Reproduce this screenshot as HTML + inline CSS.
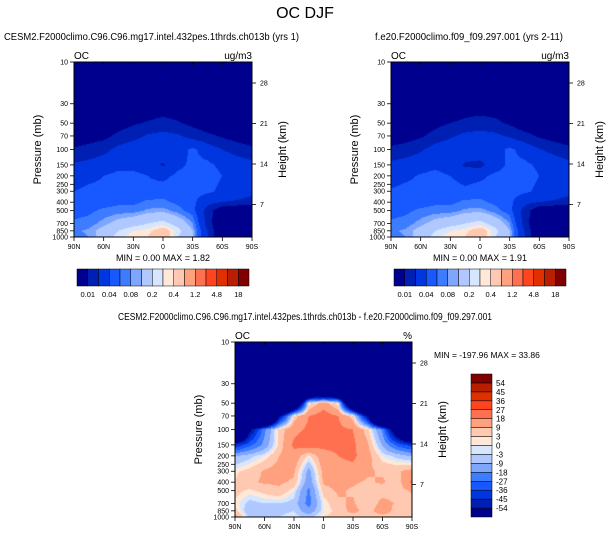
<!DOCTYPE html>
<html><head><meta charset="utf-8">
<style>
body{margin:0;background:#fff;width:609px;height:538px;overflow:hidden;position:relative;font-family:"Liberation Sans",sans-serif;}
canvas{position:absolute;}
svg{position:absolute;left:0;top:0;}
</style></head>
<body>
<canvas id="c1"></canvas>
<canvas id="c2"></canvas>
<canvas id="c3"></canvas>
<svg id="s" width="609" height="538"></svg>
<script>
const lats = ["90N","75N","60N","45N","30N","15N","0","15S","30S","45S","60S","75S","90S"];
const levels = [10,30,50,70,100,150,200,300,400,500,700,850,1000];
const pTicks = [10,30,50,70,100,150,200,250,300,400,500,700,850,1000];
const hTicks = [28,21,14,7];
const xTickLabels = ["90N","60N","30N","0","30S","60S","90S"];
const palette = ["#00008e","#0020b4","#0036e0","#1858ff","#3e7cff","#7ea6ff","#afc8ff","#d6e6ff","#ffe8d8","#ffc8b0","#ffa07e","#ff7050","#ff4420","#e03000","#b81e00","#800000"];
const ctlBounds = [0.01,0.02,0.04,0.06,0.08,0.1,0.2,0.3,0.4,0.8,1.2,2.4,4.8,9,18];
const ctlLabels = ["0.01","0.04","0.08","0.2","0.4","1.2","4.8","18"];
const diffBounds = [-54,-45,-36,-27,-18,-9,-3,0,3,9,18,27,36,45,54];
const ctlData = [
 [0.003,0.003,0.003,0.003,0.003,0.003,0.003,0.003,0.003,0.003,0.003,0.003,0.003],
 [0.005,0.005,0.005,0.005,0.005,0.005,0.006,0.005,0.005,0.005,0.005,0.005,0.005],
 [0.005,0.005,0.006,0.007,0.009,0.011,0.013,0.011,0.008,0.006,0.005,0.005,0.005],
 [0.006,0.007,0.008,0.012,0.016,0.022,0.025,0.022,0.016,0.012,0.009,0.007,0.006],
 [0.011,0.013,0.016,0.025,0.03,0.032,0.033,0.03,0.045,0.03,0.02,0.015,0.012],
 [0.022,0.025,0.03,0.035,0.035,0.03,0.018,0.035,0.045,0.045,0.035,0.03,0.025],
 [0.03,0.035,0.04,0.045,0.045,0.04,0.035,0.045,0.05,0.05,0.04,0.035,0.03],
 [0.04,0.045,0.045,0.05,0.05,0.045,0.05,0.05,0.05,0.045,0.035,0.03,0.025],
 [0.045,0.05,0.05,0.055,0.055,0.065,0.065,0.055,0.045,0.025,0.02,0.018,0.015],
 [0.05,0.055,0.065,0.07,0.07,0.085,0.09,0.07,0.05,0.015,0.005,0.004,0.004],
 [0.065,0.07,0.09,0.12,0.15,0.2,0.25,0.15,0.08,0.015,0.004,0.003,0.003],
 [0.075,0.085,0.12,0.2,0.3,0.35,0.6,0.25,0.1,0.02,0.004,0.003,0.003],
 [0.07,0.08,0.13,0.25,0.4,0.4,0.8,0.2,0.1,0.02,0.004,0.003,0.003]];
const testData = [
 [0.003,0.003,0.003,0.003,0.003,0.003,0.003,0.003,0.003,0.003,0.003,0.003,0.003],
 [0.005,0.005,0.005,0.005,0.005,0.006,0.006,0.006,0.005,0.005,0.005,0.005,0.005],
 [0.005,0.005,0.006,0.008,0.01,0.012,0.014,0.012,0.009,0.006,0.005,0.005,0.005],
 [0.006,0.007,0.009,0.013,0.018,0.024,0.026,0.024,0.018,0.013,0.009,0.007,0.006],
 [0.012,0.014,0.018,0.028,0.032,0.033,0.034,0.032,0.045,0.032,0.021,0.016,0.012],
 [0.024,0.027,0.032,0.036,0.03,0.018,0.016,0.03,0.045,0.045,0.036,0.03,0.025],
 [0.032,0.036,0.042,0.046,0.04,0.032,0.035,0.045,0.05,0.05,0.04,0.035,0.03],
 [0.042,0.046,0.047,0.05,0.05,0.045,0.05,0.05,0.05,0.045,0.035,0.03,0.025],
 [0.046,0.05,0.05,0.055,0.055,0.065,0.065,0.055,0.045,0.025,0.02,0.018,0.015],
 [0.05,0.055,0.065,0.07,0.07,0.085,0.09,0.07,0.05,0.015,0.005,0.004,0.004],
 [0.065,0.07,0.09,0.12,0.15,0.2,0.25,0.15,0.08,0.015,0.004,0.003,0.003],
 [0.075,0.085,0.12,0.2,0.3,0.35,0.6,0.25,0.1,0.02,0.004,0.003,0.003],
 [0.07,0.08,0.13,0.25,0.4,0.4,0.8,0.2,0.1,0.02,0.004,0.003,0.003]];
const diffData = [
 [-198,-198,-198,-198,-198,-198,-198,-198,-198,-198,-198,-198,-198],
 [-198,-198,-198,-198,-198,-198,-198,-198,-198,-198,-198,-198,-198],
 [-198,-198,-198,-198,-120,0,14,0,-120,-198,-198,-198,-198],
 [-198,-198,-198,-60,5,18,22,18,5,-60,-198,-198,-198],
 [-150,-60,-20,5,15,20,24,20,18,5,-20,-80,-150],
 [-45,-30,-15,5,20,24,20,20,20,10,-10,-30,-40],
 [-10,-5,0,9,15,2,15,18,20,12,0,-5,-10],
 [2,5,10,12,10,-12,12,15,15,10,8,8,12],
 [3,8,10,10,8,-15,10,12,10,8,10,5,20],
 [5,2,5,8,0,-20,6,10,8,6,5,6,10],
 [2,-5,-3,-3,-5,-22,0,8,10,3,12,8,5],
 [5,-8,-5,-5,-3,-15,0,5,12,5,15,5,5],
 [12,-5,-8,-3,0,-5,3,5,5,5,5,5,5]];

const NS="http://www.w3.org/2000/svg";
const svg=document.getElementById('s');
function mk(tag,attrs,name,txt){const e=document.createElementNS(NS,tag);for(const k in attrs)e.setAttribute(k,attrs[k]);
 
 
 if(txt!==undefined)e.textContent=txt;svg.appendChild(e);return e;}
function colorIdx(v,b){let i=0;while(i<b.length&&v>=b[i])i++;return i;}

function panel(cv,px,py,pw,ph,data,bounds,logv,name){
 const yOf=p=>py+ph*Math.log(p/10)/Math.log(100);
 cv.width=pw;cv.height=ph;cv.style.left=px+'px';cv.style.top=py+'px';
 const ctx=cv.getContext('2d');const img=ctx.createImageData(pw,ph);
 const rgb=palette.map(c=>[parseInt(c.slice(1,3),16),parseInt(c.slice(3,5),16),parseInt(c.slice(5,7),16)]);
 const ly=levels.map(l=>Math.log(l));
 for(let y=0;y<ph;y++){
  const lp=Math.log(10)+(y+0.5)/ph*Math.log(100);
  let r=0;while(r<levels.length-2&&lp>ly[r+1])r++;
  const ty=Math.min(1,Math.max(0,(lp-ly[r])/(ly[r+1]-ly[r])));
  for(let x=0;x<pw;x++){
   const fx=(x+0.5)/pw*(lats.length-1);let c=Math.min(lats.length-2,Math.floor(fx));const tx=fx-c;
   let f=v=>logv?Math.log(v):v;
   const a=f(data[r][c])*(1-tx)+f(data[r][c+1])*tx,b=f(data[r+1][c])*(1-tx)+f(data[r+1][c+1])*tx;
   let v=a*(1-ty)+b*ty;if(logv)v=Math.exp(v);
   const k=rgb[colorIdx(v,bounds)];const o=(y*pw+x)*4;
   img.data[o]=k[0];img.data[o+1]=k[1];img.data[o+2]=k[2];img.data[o+3]=255;}}
 ctx.putImageData(img,0,0);
 mk('rect',{x:px,y:py,width:pw,height:ph,fill:'none',stroke:'#000','stroke-width':1},name+'-frame');
 pTicks.forEach(p=>{const y=yOf(p);
  mk('line',{x1:px-4,x2:px,y1:y,y2:y,stroke:'#000','stroke-width':0.8},name+'-y-tick');
  mk('text',{x:px-6,y:y+2.5,'font-size':7,'text-anchor':'end'},name+'-y-tick-label',String(p));});
 hTicks.forEach((h,i)=>{const y=py+21+i*40.5;
  mk('line',{x1:px+pw,x2:px+pw+4,y1:y,y2:y,stroke:'#000','stroke-width':0.8},name+'-height-tick');
  mk('text',{x:px+pw+8,y:y+2.5,'font-size':7},name+'-height-tick-label',String(h));});
 xTickLabels.forEach((t,i)=>{const x=px+pw*i/6;
  mk('line',{x1:x,x2:x,y1:py+ph,y2:py+ph+4,stroke:'#000','stroke-width':0.8},name+'-x-tick');
  mk('line',{x1:x,x2:x,y1:py,y2:py+3,stroke:'#000','stroke-width':0.8},name+'-x-top-tick');
  mk('text',{x:x,y:py+ph+12,'font-size':7,'text-anchor':'middle'},name+'-x-tick-label',t);});
 mk('text',{x:px-33,y:py+ph/2,'font-size':11,'text-anchor':'middle',transform:`rotate(-90 ${px-33} ${py+ph/2})`},name+'-y-axis-title','Pressure (mb)');
 mk('text',{x:px+pw+34,y:py+ph/2,'font-size':11,'text-anchor':'middle',transform:`rotate(-90 ${px+pw+34} ${py+ph/2})`},name+'-height-axis-title','Height (km)');
 mk('text',{x:px,y:py-3,'font-size':10},name+'-variable-label','OC');
}
panel(document.getElementById('c1'),74,62,178,175,ctlData,ctlBounds,true,'control');
panel(document.getElementById('c2'),391,62,178,175,testData,ctlBounds,true,'test');
panel(document.getElementById('c3'),235,342,177,175,diffData,diffBounds,false,'diff');
mk('text',{x:252,y:59,'font-size':10,'text-anchor':'end'},'control-units','ug/m3');
mk('text',{x:569,y:59,'font-size':10,'text-anchor':'end'},'test-units','ug/m3');
mk('text',{x:412,y:339,'font-size':10,'text-anchor':'end'},'diff-units','%');
mk('text',{x:305,y:18,'font-size':16,'text-anchor':'middle'},'main-title','OC DJF');
mk('text',{x:4,y:40,'font-size':10,textLength:295,lengthAdjust:'spacingAndGlyphs'},'control-title','CESM2.F2000climo.C96.C96.mg17.intel.432pes.1thrds.ch013b (yrs 1)');
mk('text',{x:375,y:40,'font-size':10,textLength:188,lengthAdjust:'spacingAndGlyphs'},'test-title','f.e20.F2000climo.f09_f09.297.001 (yrs 2-11)');
mk('text',{x:118,y:320,'font-size':10,textLength:374,lengthAdjust:'spacingAndGlyphs'},'diff-title','CESM2.F2000climo.C96.C96.mg17.intel.432pes.1thrds.ch013b - f.e20.F2000climo.f09_f09.297.001');
mk('text',{x:163,y:261,'font-size':9,'text-anchor':'middle'},'control-min-max','MIN =   0.00  MAX =   1.82');
mk('text',{x:480,y:261,'font-size':9,'text-anchor':'middle'},'test-min-max','MIN =   0.00  MAX =   1.91');
mk('text',{x:434,y:358,'font-size':8.5},'diff-min-max','MIN = -197.96  MAX =  33.86');
function hbar(x0,name){const w=172/16;
 palette.forEach((c,i)=>mk('rect',{x:x0+i*w,y:269,width:w,height:17,fill:c,stroke:'#000','stroke-width':0.5},name+'-colorbar-box'));
 ctlLabels.forEach((t,i)=>mk('text',{x:x0+w*(1+2*i),y:297,'font-size':7.5,'text-anchor':'middle'},name+'-colorbar-label',t));}
hbar(77,'control');hbar(394,'test');
const vh=143/16;
palette.forEach((c,i)=>mk('rect',{x:471,y:517-(i+1)*vh,width:21,height:vh,fill:c,stroke:'#000','stroke-width':0.5},'diff-colorbar-box'));
diffBounds.forEach((b,i)=>mk('text',{x:496,y:517-(i+1)*vh+3,'font-size':8},'diff-colorbar-label',String(b)));
</script>
</body></html>
